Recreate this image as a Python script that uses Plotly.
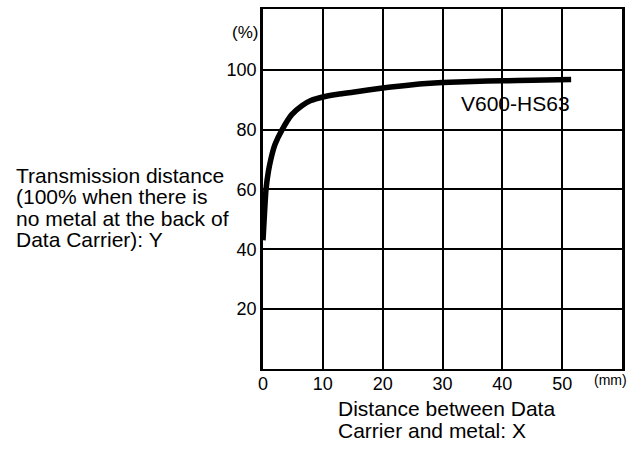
import plotly.graph_objects as go

# Data
distance_mm = [0, 0.25, 0.5, 0.9, 1.3, 2.0, 3.2, 4.8, 6.5, 8.0, 10, 12.5, 15, 20, 25, 30, 35, 40, 45, 51.5]
transmission_pct = [43, 52, 60, 66, 70, 75, 80, 85, 88, 89.7, 90.9, 91.8, 92.5, 93.9, 95.0, 95.7, 96.1, 96.3, 96.5, 96.7]
x_ticks = [0, 10, 20, 30, 40, 50]
y_ticks = [20, 40, 60, 80, 100]
series_name = "V600-HS63"

FONT = "Liberation Sans, Arial, sans-serif"
W, H = 632, 456
L, R, T, B = 263, 7, 8, 87
PW, PH = W - L - R, H - T - B

fig = go.Figure()
fig.add_trace(go.Scatter(
    x=distance_mm, y=transmission_pct, mode="lines",
    line=dict(color="black", width=5.5, shape="spline", smoothing=0.6),
    name=series_name, showlegend=False, hoverinfo="skip",
))

fig.update_layout(
    width=W, height=H,
    margin=dict(l=L, r=R, t=T, b=B),
    paper_bgcolor="white", plot_bgcolor="white",
    font=dict(family=FONT, color="black"),
    xaxis=dict(
        range=[0, 60], tickvals=x_ticks, ticktext=[str(v) for v in x_ticks],
        showgrid=True, gridcolor="black", gridwidth=1.6, zeroline=False,
        showline=True, linecolor="black", linewidth=2, mirror=True,
        ticks="", tickfont=dict(size=18, family=FONT), ticklabelstandoff=-3,
    ),
    yaxis=dict(
        range=[0, 120.3], tickvals=y_ticks, ticktext=[str(v) for v in y_ticks],
        showgrid=True, gridcolor="black", gridwidth=1.6, zeroline=False,
        showline=True, linecolor="black", linewidth=2.5, mirror=True,
        ticks="", tickfont=dict(size=18, family=FONT),
    ),
)

anns = [
    dict(x=245, y=32, text="(%)", size=17, anchor="center"),
    dict(x=613, y=380, text="(mm)", size=14, anchor="center"),
    dict(x=518, y=103, text=series_name, size=21, anchor="center"),
]
left_lines = ["Transmission distance", "(100% when there is",
              "no metal at the back of", "Data Carrier): Y"]
for i, t in enumerate(left_lines):
    anns.append(dict(x=12, y=175 + 21.3 * i, text=t, size=21, anchor="left"))
bottom_lines = ["Distance between Data", "Carrier and metal: X"]
for i, t in enumerate(bottom_lines):
    anns.append(dict(x=337, y=409 + 22 * i, text=t, size=21, anchor="left"))

for a in anns:
    fig.add_annotation(
        x=(a["x"] - L) / PW, y=(H - B - a["y"]) / PH, xref="paper", yref="paper",
        text=a["text"], showarrow=False, xanchor=a["anchor"], yanchor="middle",
        font=dict(family=FONT, color="black", size=a["size"]),
    )

fig.write_html("out.html", config={"displayModeBar": False},
               post_script="document.body.style.margin='0';")
